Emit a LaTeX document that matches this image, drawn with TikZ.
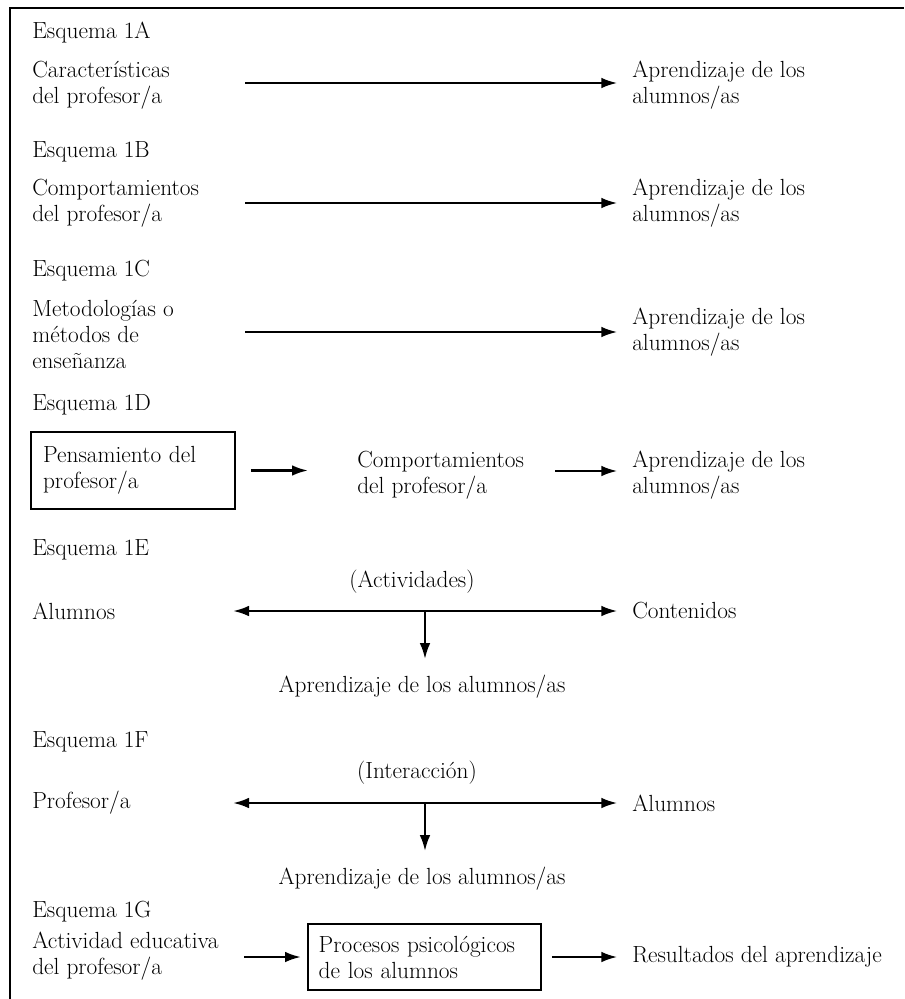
\documentclass[tikz,border=0pt]{standalone}
\usepackage{tikz}
\usetikzlibrary{arrows.meta, calc, positioning}

\newcommand{\esqfont}{\fontsize{17.5}{19.5}\selectfont}

\tikzset{
  txt/.style={anchor=west, align=left, inner sep=0pt, font=\esqfont},
  ctxt/.style={align=center, inner sep=0pt, font=\esqfont},
  arr/.style={-{Latex[length=12pt, width=8pt]}, line width=1.8pt},
  darr/.style={{Latex[length=12pt, width=8pt]}-{Latex[length=12pt, width=8pt]}, line width=1.8pt},
  caja/.style={draw, line width=1.6pt, anchor=west, align=left, font=\esqfont},
}

\begin{document}
\begin{tikzpicture}[x=0.75pt, y=-0.75pt]

  \useasboundingbox (0,0) rectangle (904,999);
  \draw[line width=1.6pt] (10,999) -- (10,8) -- (904,8);

  % Esquema 1A
  \node[txt] (tA) at (32,33) {Esquema 1A};
  \node[txt] (oA) at (32,85) {Características\\del profesor/a};
  \node[txt] (dA) at (632,85) {Aprendizaje de los\\alumnos/as};
  \coordinate (sA) at (245,83);
  \draw[arr, shorten >=11pt] (sA) -- (sA -| dA.west);

  % Esquema 1B
  \node[txt] (tB) at (32,152) {Esquema 1B};
  \node[txt] (oB) at (32,203) {Comportamientos\\del profesor/a};
  \node[txt] (dB) at (632,203) {Aprendizaje de los\\alumnos/as};
  \coordinate (sB) at (245,203);
  \draw[arr, shorten >=11pt] (sB) -- (sB -| dB.west);

  % Esquema 1C
  \node[txt] (tC) at (32,271) {Esquema 1C};
  \node[txt] (oC) at (32,334) {Metodologías o\\métodos de\\enseñanza};
  \node[txt] (dC) at (632,332) {Aprendizaje de los\\alumnos/as};
  \coordinate (sC) at (245,332);
  \draw[arr, shorten >=11pt] (sC) -- (sC -| dC.west);

  % Esquema 1D
  \node[txt] (tD) at (32,405) {Esquema 1D};
  \node[caja, text width=135pt, inner xsep=9pt, minimum height=57.75pt] (pD) at (30,470.5) {Pensamiento del\\profesor/a};
  \node[txt] (cD) at (357,475.5) {Comportamientos\\del profesor/a};
  \node[txt] (dD) at (632,475.5) {Aprendizaje de los\\alumnos/as};
  \coordinate (mD) at (555,471);
  \draw[arr, shorten <=11pt] (pD.east) -- ($(pD.east -| cD.west)-(49,0)$);
  \draw[arr, shorten >=11pt] (mD) -- (mD -| dD.west);

  % Esquema 1E
  \node[txt] (tE) at (32,550) {Esquema 1E};
  \node[ctxt] (aE) at (412,582) {(Actividades)};
  \node[txt] (oE) at (32,611) {Alumnos};
  \node[txt] (dE) at (632,611) {Contenidos};
  \node[ctxt] (rE) at (422,687) {Aprendizaje de los alumnos/as};
  \coordinate (lE) at (233,611);
  \coordinate (mE) at (425,611);
  \draw[darr, shorten >=11pt] (lE) -- (lE -| dE.west);
  \draw[arr] (mE) -- ($(mE |- rE.north)-(0,16)$);

  % Esquema 1F
  \node[txt] (tF) at (32,742) {Esquema 1F};
  \node[ctxt] (aF) at (417,773) {(Interacción)};
  \node[txt] (oF) at (32,803) {Profesor/a};
  \node[txt] (dF) at (632,803) {Alumnos};
  \node[ctxt] (rF) at (422,879) {Aprendizaje de los alumnos/as};
  \coordinate (lF) at (233,803);
  \coordinate (mF) at (425,803);
  \draw[darr, shorten >=11pt] (lF) -- (lF -| dF.west);
  \draw[arr] (mF) -- ($(mF |- rF.north)-(0,16)$);

  % Esquema 1G
  \node[txt] (tG) at (32,912) {Esquema 1G};
  \node[txt] (oG) at (32,956.5) {Actividad educativa\\del profesor/a};
  \node[caja, text width=159pt, inner xsep=8pt, minimum height=49.5pt] (pG) at (307,957) {Procesos psicológicos\\de los alumnos};
  \node[txt] (dG) at (632,957) {Resultados del aprendizaje};
  \draw[arr, shorten >=4.5pt] ($(pG.west)-(63,0)$) -- (pG.west);
  \draw[arr, shorten <=7pt, shorten >=11pt] (pG.east) -- (pG.east -| dG.west);

\end{tikzpicture}
\end{document}
